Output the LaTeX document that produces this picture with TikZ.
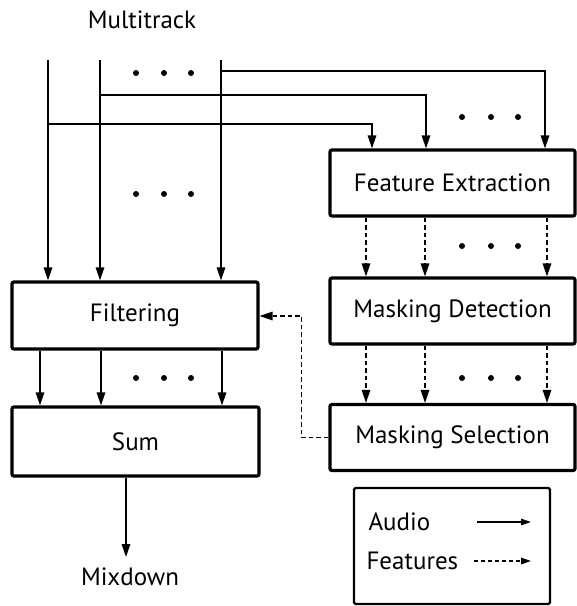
\documentclass[tikz,border=0pt]{standalone}
\usepackage{fontspec}
\setmainfont{PT Sans}
\usetikzlibrary{arrows.meta,calc}
\begin{document}
\begin{tikzpicture}[x=1pt,y=-1pt,
  every node/.style={font=\fontsize{25}{28}\selectfont},
  block/.style={draw,line width=3.2pt,rounded corners=2pt,minimum width=245pt,minimum height=66pt,inner sep=0pt},
  audio/.style={line width=1.5pt,-{Triangle[length=13pt,width=8.5pt]}},
  feat/.style={audio,dash pattern=on 4.5pt off 3pt},
  legaudio/.style={line width=1.5pt,-{Triangle[length=10pt,width=6.5pt]}},
  legfeat/.style={legaudio,dash pattern=on 4pt off 3pt},
  dotmark/.style={fill=black}]
\useasboundingbox (0,0) rectangle (577,606);

% processing blocks
\node[block] (fe)   at (452.5,183)   {Feature Extraction};
\node[block] (md)   at (452.5,311)   {Masking Detection};
\node[block] (ms)   at (452.5,437.5) {Masking Selection};
\node[block,minimum width=246pt,minimum height=67pt] (filt) at (135,315.5) {Filtering};
\node[block,minimum width=247pt,minimum height=69pt] (sum)  at (135.5,441.5) {Sum};

% input and output labels
\node (multi) at (142,20) {Multitrack};
\node (mix)   at (130,577) {Mixdown};

% track lines
\coordinate (t1) at (48,60);
\coordinate (t2) at (100,60);
\coordinate (t3) at (221,60);
\draw[audio] (t1) -- (t1 |- filt.north);
\draw[audio] (t2) -- (t2 |- filt.north);
\draw[audio] (t3) -- (t3 |- filt.north);

% branches to feature extraction
\coordinate (c1) at (372,0);
\coordinate (c2) at (426,0);
\coordinate (c3) at (545,0);
\draw[audio] (t3 |- 0,71)  -| (fe.north -| c3);
\draw[audio] (t2 |- 0,95)  -| (fe.north -| c2);
\draw[audio] (t1 |- 0,124) -| (fe.north -| c1);

% feature paths
\coordinate (d1) at (366,0);
\coordinate (d2) at (425,0);
\coordinate (d3) at (547,0);
\foreach \d in {d1,d2,d3} {
  \draw[feat] (fe.south -| \d) -- (md.north -| \d);
  \draw[feat] (md.south -| \d) -- (ms.north -| \d);
}

% filtered tracks into the sum
\coordinate (s1) at (40,0);
\coordinate (s2) at (101,0);
\coordinate (s3) at (222,0);
\foreach \s in {s1,s2,s3}
  \draw[audio] (filt.south -| \s) -- (sum.north -| \s);

% feedback from masking selection to filtering
\coordinate (fb) at (301.5,316);
\draw[feat] (ms.west) -| (fb) -- (fb -| filt.east);

% mixdown output
\coordinate (mx) at (126,557);
\draw[audio] (sum.south -| mx) -- (mx);

% ellipsis dots
\foreach \y in {73,194,378}
  \foreach \x in {136,164,191}
    \fill[dotmark] (\x,\y) circle (3);
\foreach \y in {117,246,378}
  \foreach \x in {462,491,518}
    \fill[dotmark] (\x,\y) circle (3);

% legend
\node[draw,line width=2.4pt,rounded corners=1.5pt,minimum width=196pt,minimum height=116pt] (leg) at (452,546) {};
\node[anchor=west] (la) at (365,522) {Audio};
\node[anchor=west] (lf) at (363,561) {Features};
\coordinate (la1) at (477,522);
\coordinate (la2) at (531,522);
\coordinate (lf1) at (474,561);
\coordinate (lf2) at (531,561);
\draw[legaudio] (la1) -- (la2);
\draw[legfeat] (lf1) -- (lf2);
\end{tikzpicture}
\end{document}
